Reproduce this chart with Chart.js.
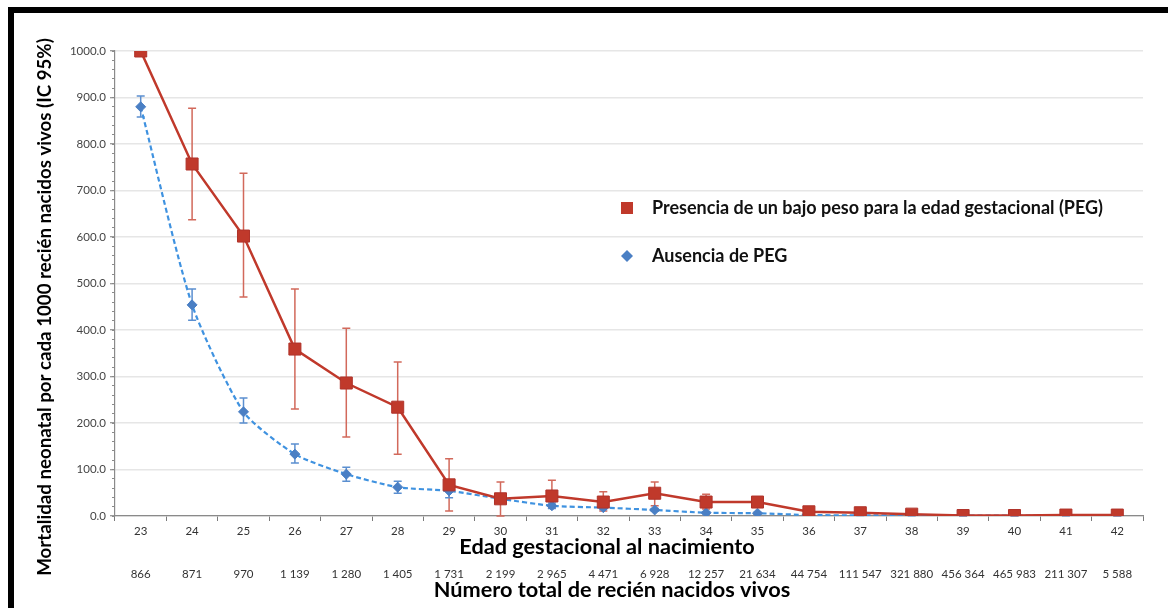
<!DOCTYPE html>
<html lang="es">
<head>
<meta charset="utf-8">
<title>Mortalidad neonatal según edad gestacional</title>
<script src="https://cdn.jsdelivr.net/npm/chart.js@4.4.1/dist/chart.umd.min.js"></script>
<style>
  html, body { margin: 0; padding: 0; background: #fff; }
  #wrap { position: relative; width: 1168px; height: 608px; overflow: hidden; }
  #frame { position: absolute; left: 8px; top: 7px; right: -10px; bottom: -10px;
           border-left: 6px solid #000; border-top: 6px solid #000; }
  #grafico { position: absolute; left: 0; top: 0; }
</style>
</head>
<body>
<div id="wrap">
  <div id="frame"></div>
  <canvas id="grafico" width="1168" height="608"></canvas>
</div>
<script>
// semanas de gestación y total de nacidos vivos por semana
const semanas = ['23', '24', '25', '26', '27', '28', '29', '30', '31', '32',
                 '33', '34', '35', '36', '37', '38', '39', '40', '41', '42'];
const nacidos = ['866', '871', '970', '1 139', '1 280', '1 405', '1 731', '2 199', '2 965', '4 471',
                 '6 928', '12 257', '21 634', '44 754', '111 547', '321 880', '456 364', '465 983', '211 307', '5 588'];

// mortalidad por 1000 con PEG, e IC 95%
const conPeg     = [1000, 757, 602, 359, 286, 234, 67, 37, 43, 30, 49, 30, 30, 9, 7, 4, 1, 1, 2, 2];
const conPegInf  = [null, 637, 471, 230, 170, 133, 11, 0, 17, 11, 22, 15, 19, 5, 4, 2, 0, 0, 1, 0];
const conPegSup  = [null, 877, 737, 488, 404, 331, 123, 73, 77, 52, 73, 47, 41, 14, 10, 6, 2, 2, 3, 5];

// mortalidad por 1000 sin PEG, e IC 95%
const sinPeg     = [880, 454, 224, 133, 90, 62, 54, 37, 22, 18, 13, 7, 6, 2, 1.5, 1, 0.8, 0.7, 0.8, 1];
const sinPegInf  = [858, 421, 200, 114, 75, 49, 39, 30, 16, 14, 10, 5, 4, 1.5, 1, 0.8, 0.6, 0.5, 0.6, 0.5];
const sinPegSup  = [903, 488, 254, 155, 105, 75, 67, 44, 28, 23, 16, 9, 8, 3, 2, 1.3, 1, 0.9, 1, 1.6];

const FUENTE = 'Lato, "Open Sans", sans-serif';

// barras de error verticales con remate
const barrasError = {
  id: 'barrasError',
  beforeDatasetsDraw(chart) {
    const { ctx } = chart;
    const y = chart.scales.y;
    chart.data.datasets.forEach((ds, di) => {
      if (!ds.errInf) return;
      const meta = chart.getDatasetMeta(di);
      ctx.save();
      ctx.strokeStyle = ds.errColor;
      ctx.lineWidth = 1.5;
      meta.data.forEach((pt, i) => {
        const lo = ds.errInf[i], hi = ds.errSup[i];
        if (lo == null || hi == null) return;
        const yt = y.getPixelForValue(hi), yb = y.getPixelForValue(lo);
        const m = ds.errCap / 2;
        ctx.beginPath();
        ctx.moveTo(pt.x, yt); ctx.lineTo(pt.x, yb);
        ctx.moveTo(pt.x - m, yt); ctx.lineTo(pt.x + m, yt);
        ctx.moveTo(pt.x - m, yb); ctx.lineTo(pt.x + m, yb);
        ctx.stroke();
      });
      ctx.restore();
    });
  }
};

// títulos de ejes y leyenda
const rotulos = {
  id: 'rotulos',
  afterDraw(chart) {
    const { ctx, chartArea: a } = chart;
    ctx.save();
    ctx.fillStyle = '#000';
    ctx.textAlign = 'center';
    ctx.textBaseline = 'middle';

    ctx.font = 'bold 18.7px ' + FUENTE;
    ctx.save();
    ctx.translate(45, 307);
    ctx.rotate(-Math.PI / 2);
    ctx.fillText('Mortalidad neonatal por cada 1000 recién nacidos vivos (IC 95%)', 0, 0);
    ctx.restore();

    ctx.font = 'bold 21.7px ' + FUENTE;
    ctx.fillText('Edad gestacional al nacimiento', 607, 547);
    ctx.fillText('Número total de recién nacidos vivos', 612, 590);

    // leyenda
    const lx = a.left + 512, ly = a.top + 157;
    chart.data.datasets.forEach((ds, i) => {
      const yy = ly + i * 48;
      ctx.fillStyle = ds.pointBackgroundColor;
      ctx.beginPath();
      if (ds.pointStyle === 'rect') {
        ctx.rect(lx - 6, yy - 6, 12, 12);
      } else {
        ctx.moveTo(lx, yy - 6); ctx.lineTo(lx + 6, yy);
        ctx.lineTo(lx, yy + 6); ctx.lineTo(lx - 6, yy);
        ctx.closePath();
      }
      ctx.fill();
      ctx.fillStyle = '#111';
      ctx.textAlign = 'left';
      ctx.font = 'bold 18px ' + FUENTE;
      ctx.fillText(ds.label, lx + 25, yy);
    });
    ctx.restore();
  }
};

new Chart(document.getElementById('grafico'), {
  type: 'line',
  data: {
    labels: semanas,
    datasets: [{
      label: 'Presencia de un bajo peso para la edad gestacional (PEG)',
      data: conPeg,
      errInf: conPegInf,
      errSup: conPegSup,
      errColor: '#d2695b',
      errCap: 8,
      borderColor: '#c0392b',
      borderWidth: 2.5,
      pointStyle: 'rect',
      pointRadius: 8.5,
      pointHoverRadius: 8.5,
      pointBackgroundColor: '#c0392b',
      pointBorderColor: '#b0332a',
      pointBorderWidth: 1,
      tension: 0
    }, {
      label: 'Ausencia de PEG',
      data: sinPeg,
      errInf: sinPegInf,
      errSup: sinPegSup,
      errColor: '#5b8fd0',
      errCap: 8,
      borderColor: '#3f92e0',
      borderWidth: 2.2,
      borderDash: [5, 3],
      pointStyle: 'rectRot',
      pointRadius: 5,
      pointHoverRadius: 5,
      pointBackgroundColor: '#4a7fc4',
      pointBorderColor: '#4a7fc4',
      pointBorderWidth: 1,
      tension: 0.22
    }]
  },
  options: {
    responsive: false,
    animation: false,
    layout: { padding: { top: 51, right: 25, bottom: 6, left: 0 } },
    plugins: {
      legend: { display: false },
      tooltip: { enabled: false }
    },
    scales: {
      x: {
        position: 'bottom',
        offset: true,
        afterFit: s => { s.height = 42; },
        grid: { offset: true, drawOnChartArea: false, tickLength: 5, color: '#7a7a7a', lineWidth: 1 },
        border: { color: '#8a8a8a', width: 1.2 },
        ticks: { color: '#333', padding: 3, maxRotation: 0, autoSkip: false,
                 font: { family: FUENTE, size: 11.5 } }
      },
      x2: {
        type: 'category',
        position: 'bottom',
        labels: nacidos,
        offset: true,
        afterFit: s => { s.height = 44; },
        grid: { display: false, drawTicks: false },
        border: { display: false },
        ticks: { color: '#333', padding: 9, maxRotation: 0, autoSkip: false,
                 font: { family: FUENTE, size: 11.5 } }
      },
      y: {
        min: 0,
        max: 1000,
        weight: 1,
        afterFit: s => { s.width = 115; },
        grid: { color: '#e6e6e6', lineWidth: 1.5, tickLength: 5, tickColor: '#7a7a7a', tickWidth: 1 },
        border: { color: '#8a8a8a', width: 1.2 },
        ticks: { stepSize: 100, color: '#444', padding: 4,
                 font: { family: FUENTE, size: 11.5 },
                 callback: v => v.toFixed(1) }
      },
      y2: {
        min: 0,
        max: 1000,
        position: 'left',
        weight: 0,
        afterFit: s => { s.width = 0; },
        grid: { drawOnChartArea: false, tickLength: 3, tickColor: '#8a8a8a', tickWidth: 1 },
        border: { display: false },
        ticks: { stepSize: 20, display: false }
      }
    }
  },
  plugins: [barrasError, rotulos]
});
</script>
</body>
</html>
